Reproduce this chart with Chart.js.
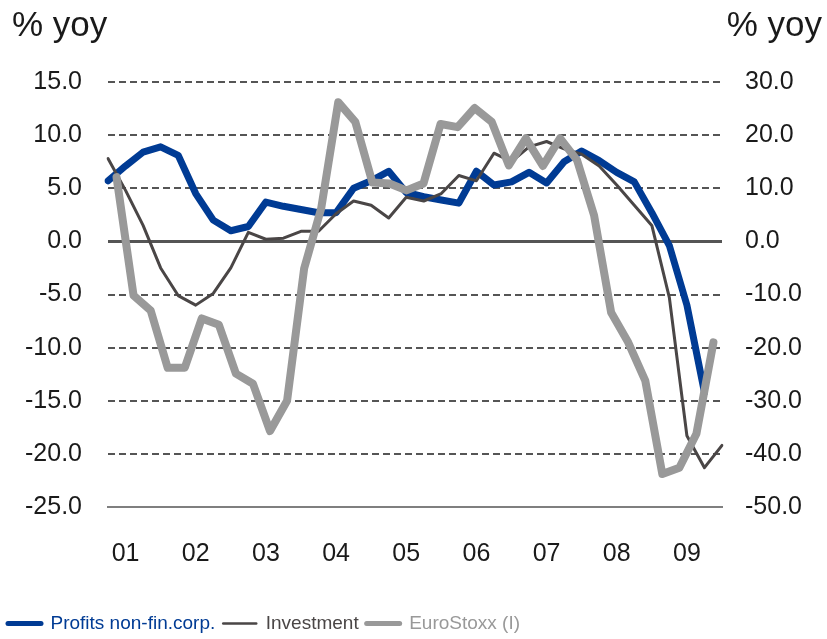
<!DOCTYPE html>
<html>
<head>
<meta charset="utf-8">
<script src="https://cdn.jsdelivr.net/npm/chart.js@4.4.0/dist/chart.umd.min.js"></script>
<style>
  html, body { margin: 0; padding: 0; background: #fff; }
</style>
</head>
<body>
<canvas id="profitsChart" width="827" height="639"></canvas>
<script>
// Quarters from 2000 Q4 to 2009 Q3
const quarters = [
  '00Q4',
  '01Q1', '01Q2', '01Q3', '01Q4',
  '02Q1', '02Q2', '02Q3', '02Q4',
  '03Q1', '03Q2', '03Q3', '03Q4',
  '04Q1', '04Q2', '04Q3', '04Q4',
  '05Q1', '05Q2', '05Q3', '05Q4',
  '06Q1', '06Q2', '06Q3', '06Q4',
  '07Q1', '07Q2', '07Q3', '07Q4',
  '08Q1', '08Q2', '08Q3', '08Q4',
  '09Q1', '09Q2', '09Q3'
];

// % yoy, left axis
const profits = [
  5.7, 7.1, 8.4, 8.9, 8.1, 4.5, 2.0, 1.0, 1.4, 3.7, 3.3, 3.0,
  2.7, 2.7, 5.0, 5.7, 6.6, 4.6, 4.2, 3.9, 3.6, 6.6, 5.3, 5.6,
  6.5, 5.5, 7.5, 8.5, 7.6, 6.5, 5.6, 2.7, -0.4, -6.0, -14.2, null
];

// % yoy, left axis
const investment = [
  7.8, 4.8, 1.5, -2.5, -5.1, -6.0, -4.9, -2.5, 0.85, 0.2, 0.3, 0.95,
  0.95, 2.6, 3.8, 3.4, 2.2, 4.15, 3.8, 4.5, 6.2, 5.7, 8.3, 7.5,
  8.9, 9.4, 8.7, 8.2, 7.1, 5.3, 3.4, 1.5, -5.3, -18.3, -21.3, -19.2
];

// % yoy, right axis
const euroStoxx = [
  12.1, -10.2, -13.0, -23.8, -23.8, -14.5, -15.7, -24.9, -26.8, -35.7, -30.0, -5.1,
  6.2, 26.2, 22.5, 11.1, 10.9, 9.6, 10.9, 22.1, 21.5, 25.1, 22.5, 14.3,
  19.4, 14.2, 19.4, 15.3, 4.9, -13.4, -19.0, -26.2, -43.8, -42.6, -36.2, -19.0
];

const seriesNames = ['Profits non-fin.corp.', 'Investment', 'EuroStoxx (I)'];
const unitLabel = '% yoy';

const BLUE = '#003b94';
const DARK = '#4a4646';
const LIGHT = '#999999';
const TEXT = '#1a1a1a';
const FONT = "'Liberation Sans', Arial, sans-serif";

// Draw the "% yoy" captions above both axes
const unitCaptions = {
    id: 'unitCaptions',
    afterDraw(chart) {
        const c = chart.ctx;
        c.save();
        c.font = '35px ' + FONT;
        c.fillStyle = TEXT;
        c.textBaseline = 'middle';
        c.textAlign = 'left';
        c.fillText(unitLabel, 12, 26);
        c.textAlign = 'right';
        c.fillText(unitLabel, 822, 26);
        c.restore();
    }
};

function initChart() {
    const ctx = document.getElementById('profitsChart');

    const legendColors = [BLUE, DARK, LIGHT];
    const legendWidths = [5, 2.5, 5];

    new Chart(ctx, {
        type: 'line',
        data: {
            labels: quarters,
            datasets: [
                {
                    label: seriesNames[0],
                    data: profits,
                    borderColor: BLUE,
                    backgroundColor: BLUE,
                    borderWidth: 7,
                    xAxisID: 'x',
                    yAxisID: 'y',
                    order: 2
                },
                {
                    label: seriesNames[1],
                    data: investment,
                    borderColor: DARK,
                    backgroundColor: DARK,
                    borderWidth: 3,
                    xAxisID: 'x',
                    yAxisID: 'y',
                    order: 1
                },
                {
                    label: seriesNames[2],
                    data: euroStoxx,
                    borderColor: LIGHT,
                    backgroundColor: LIGHT,
                    borderWidth: 8,
                    xAxisID: 'x2',
                    yAxisID: 'y2',
                    order: 0
                }
            ]
        },
        options: {
            responsive: false,
            animation: false,
            devicePixelRatio: 1,
            layout: {
                padding: { top: 82, left: 0, right: 0, bottom: -4 }
            },
            elements: {
                line: { tension: 0, borderJoinStyle: 'round', borderCapStyle: 'round' },
                point: { radius: 0, hoverRadius: 0 }
            },
            plugins: {
                tooltip: { enabled: false },
                legend: {
                    position: 'bottom',
                    align: 'start',
                    labels: {
                        usePointStyle: true,
                        pointStyle: 'line',
                        pointStyleWidth: 33,
                        padding: 8,
                        font: { family: FONT, size: 19 },
                        sort: (a, b) => a.datasetIndex - b.datasetIndex,
                        generateLabels: function(chart) {
                            const items = Chart.defaults.plugins.legend.labels.generateLabels(chart);
                            items.forEach(item => {
                                item.fontColor = legendColors[item.datasetIndex];
                                item.strokeStyle = legendColors[item.datasetIndex];
                                item.lineWidth = legendWidths[item.datasetIndex];
                                item.lineCap = 'round';
                            });
                            return items;
                        }
                    }
                }
            },
            scales: {
                x: {
                    type: 'category',
                    offset: false,
                    grid: { display: false },
                    border: { display: true, color: '#7f7f7f', width: 2, dash: [] },
                    ticks: {
                        autoSkip: false,
                        maxRotation: 0,
                        padding: 24,
                        color: TEXT,
                        font: { family: FONT, size: 25 },
                        callback: function(value, index) {
                            const q = quarters[index];
                            return q.endsWith('Q1') ? q.slice(0, 2) : '';
                        }
                    },
                    afterFit: function(scale) {
                        scale.height = 99;
                    }
                },
                x2: {
                    type: 'category',
                    labels: quarters,
                    offset: true,
                    display: false
                },
                y: {
                    position: 'left',
                    min: -25,
                    max: 15,
                    grid: {
                        drawTicks: false,
                        color: c => (c.tick && c.tick.value === -25) ? 'rgba(0,0,0,0)' : '#555555',
                        lineWidth: c => (c.tick && c.tick.value === 0) ? 3 : 2
                    },
                    border: {
                        display: false,
                        dash: c => (c.tick && c.tick.value === 0) ? [] : [7, 4]
                    },
                    ticks: {
                        stepSize: 5,
                        padding: 26,
                        color: TEXT,
                        font: { family: FONT, size: 25 },
                        callback: v => v.toFixed(1)
                    },
                    afterFit: function(scale) {
                        scale.width = 108;
                    }
                },
                y2: {
                    position: 'right',
                    min: -50,
                    max: 30,
                    grid: { drawOnChartArea: false, drawTicks: false },
                    border: { display: false },
                    ticks: {
                        stepSize: 10,
                        padding: 23,
                        color: TEXT,
                        font: { family: FONT, size: 25 },
                        callback: v => v.toFixed(1)
                    },
                    afterFit: function(scale) {
                        scale.width = 105;
                    }
                }
            }
        },
        plugins: [unitCaptions]
    });
}

document.addEventListener('DOMContentLoaded', initChart);
</script>
</body>
</html>
